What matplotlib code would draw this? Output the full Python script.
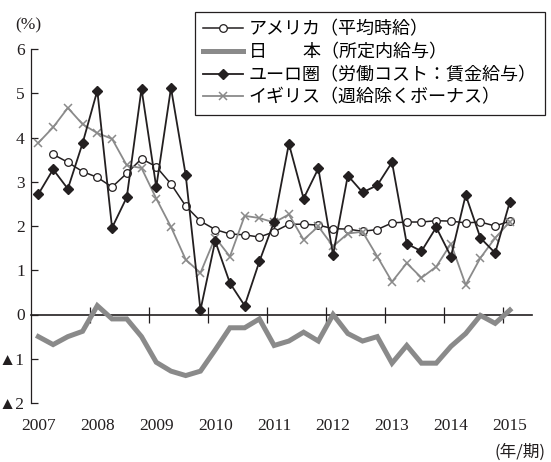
import numpy as np
import matplotlib
matplotlib.use('Agg')
import matplotlib.pyplot as plt

plt.rcParams['font.family'] = ['Liberation Serif', 'DejaVu Sans']

# quarterly, 2007Q1 .. 2015Q1
years = [2007, 2008, 2009, 2010, 2011, 2012, 2013, 2014, 2015]
nan = np.nan
usa = [nan, 3.62, 3.44, 3.23, 3.10, 2.88, 3.19, 3.52, 3.34, 2.95, 2.45, 2.11, 1.92, 1.82, 1.80, 1.75, 1.87,
       2.04, 2.04, 2.02, 1.94, 1.93, 1.88, 1.92, 2.07, 2.09, 2.09, 2.12, 2.11, 2.07, 2.09, 2.00, 2.11]
japan = [-0.50, -0.68, -0.50, -0.38, 0.20, -0.10, -0.10, -0.50, -1.08, -1.28, -1.38, -1.28, -0.80, -0.30,
         -0.30, -0.10, -0.70, -0.60, -0.40, -0.60, 0.00, -0.43, -0.60, -0.50, -1.10, -0.70, -1.10, -1.10,
         -0.72, -0.43, -0.02, -0.20, 0.10]
euro = [2.72, 3.28, 2.84, 3.87, 5.06, 1.96, 2.65, 5.10, 2.88, 5.12, 3.15, 0.10, 1.66, 0.71, 0.20, 1.20, 2.10,
        3.86, 2.62, 3.30, 1.35, 3.14, 2.76, 2.92, 3.44, 1.60, 1.43, 1.97, 1.31, 2.70, 1.73, 1.39, 2.55]
uk = [3.88, 4.23, 4.67, 4.30, 4.10, 3.97, 3.37, 3.31, 2.62, 1.98, 1.24, 0.94, 1.74, 1.31, 2.23, 2.18, 2.08,
      2.26, 1.69, 1.99, 1.54, 1.83, 1.87, 1.31, 0.74, 1.16, 0.83, 1.08, 1.60, 0.67, 1.28, 1.73, 2.10]
labels = ['アメリカ（平均時給）', '日　　本（所定内給与）', 'ユーロ圏（労働コスト：賃金給与）', 'イギリス（週給除くボーナス）']
yticklabels = ['▲2', '▲1', '0', '1', '2', '3', '4', '5', '6']

x = np.arange(len(euro))
dark = '#231f20'
grey = '#8a8a8a'

fig = plt.figure(figsize=(5.51, 4.62), dpi=100)
ax = fig.add_axes([31/551, 1-403/462, (532-31)/551, (403-49)/462])

l2, = ax.plot(x, japan, color=grey, lw=3.6, solid_joinstyle='miter', zorder=2)
l1, = ax.plot(x, usa, color=dark, lw=1.1, marker='o', ms=5.5, mfc='white', mec=dark, mew=0.9, zorder=3)
l4, = ax.plot(x, uk, color=grey, lw=1.3, marker='x', ms=6, mew=1.1, zorder=4)
l3, = ax.plot(x, euro, color=dark, lw=1.3, marker='D', ms=5.5, mfc=dark, mec=dark, zorder=5)

ax.set_xlim(-0.5, 33.5)
ax.set_ylim(-2, 6)
ax.set_yticks(range(-2, 7))
ax.set_yticklabels(yticklabels)
ax.set_xticks(np.arange(0, 33, 4))
ax.set_xticklabels([str(y) for y in years])
ax.tick_params(axis='x', length=0, pad=11, labelsize=12.5, colors=dark)
ax.tick_params(axis='y', direction='in', length=5, width=0.9, pad=4.5, labelsize=12.5, colors=dark)
for s in ['top', 'right', 'bottom']:
    ax.spines[s].set_visible(False)
ax.spines['left'].set_color(dark)
ax.spines['left'].set_linewidth(0.9)

# zero line with year-boundary ticks
sec = ax.secondary_xaxis(0.25)
sec.set_xticks(np.arange(3.5, 33, 4))
sec.tick_params(direction='inout', length=11, width=0.9, color=dark, labelbottom=False)
sec.spines['bottom'].set_color(dark)
sec.spines['bottom'].set_linewidth(1.2)

leg = fig.legend([l1, l2, l3, l4], labels, loc='upper right',
                 bbox_to_anchor=(545/551, 1-12/462), bbox_transform=fig.transFigure,
                 prop={'family': ['Noto Sans CJK JP'], 'size': 13},
                 frameon=True, fancybox=False, framealpha=1, edgecolor=dark,
                 handlelength=2.2, handletextpad=0.35, labelspacing=0.27, borderpad=0.45,
                 borderaxespad=0)
leg.get_frame().set_linewidth(0.9)

fig.text(15/551, 1-25/462, '(%)', fontsize=12.5, va='center', ha='left', color=dark)
fig.text(545/551, 1-452/462, '(年/期)', fontsize=12, va='center', ha='right', color=dark,
         family=['Noto Sans CJK JP'])

fig.savefig('out.png', dpi=100)
